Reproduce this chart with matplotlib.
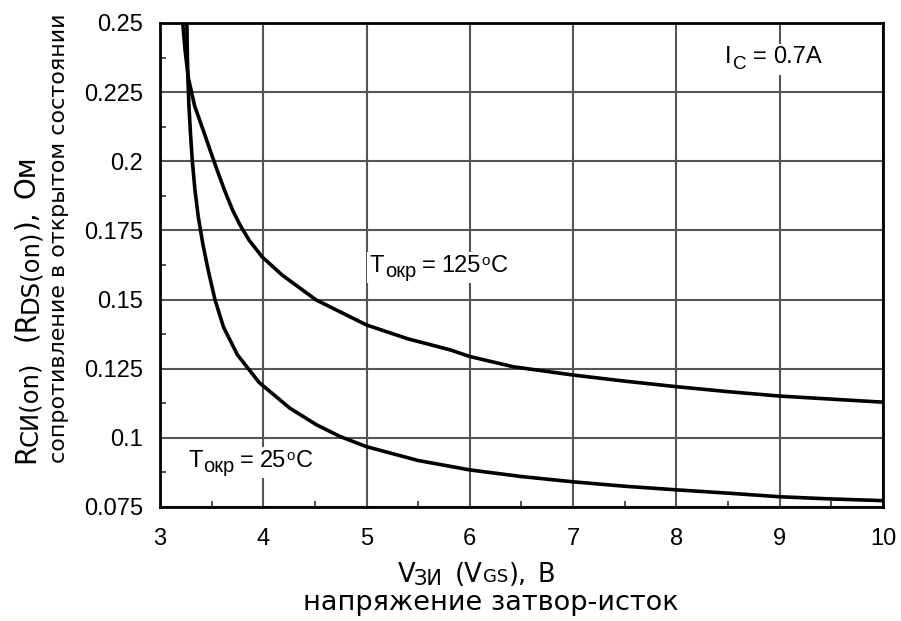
import matplotlib
matplotlib.use("Agg")
import matplotlib.pyplot as plt
from matplotlib.ticker import MultipleLocator, FixedLocator
from matplotlib.transforms import IdentityTransform
from matplotlib.patches import Rectangle

plt.rcParams['font.family'] = ['Liberation Sans', 'DejaVu Sans']

# Tокр = 25°C
v_25 = [3.26, 3.264, 3.270, 3.280, 3.295, 3.313, 3.337, 3.37, 3.415, 3.47,
        3.532, 3.615, 3.75, 3.96, 4.258, 4.516, 4.742, 5.0, 5.5, 6.0, 6.5,
        7.0, 7.5, 8.0, 8.5, 9.0, 9.5, 10.0]
r_25 = [0.25, 0.24, 0.23, 0.22, 0.21, 0.20, 0.19, 0.18, 0.17, 0.16,
        0.15, 0.14, 0.13, 0.12, 0.1107, 0.1047, 0.1005, 0.0968, 0.0918, 0.0884,
        0.0860, 0.0841, 0.0825, 0.0812, 0.0800, 0.0787, 0.0779, 0.0773]
# Tокр = 125°C
v_125 = [3.22, 3.243, 3.275, 3.335, 3.43, 3.484, 3.552, 3.624, 3.702, 3.774,
         3.862, 3.987, 4.181, 4.51, 5.0, 5.4, 5.81, 6.0, 6.42, 7.0, 7.5, 8.0,
         8.5, 9.0, 9.5, 10.0]
r_125 = [0.25, 0.24, 0.23, 0.22, 0.21, 0.2041, 0.1969, 0.1896, 0.1824, 0.1770,
         0.1715, 0.1655, 0.1589, 0.1499, 0.1408, 0.1358, 0.1318, 0.1294,
         0.1257, 0.1227, 0.1205, 0.1185, 0.1167, 0.1151, 0.1140, 0.1129]

x_ticks = [3, 4, 5, 6, 7, 8, 9, 10]
y_ticks = [0.075, 0.1, 0.125, 0.15, 0.175, 0.2, 0.225, 0.25]
y_labels = ['0.075', '0.1', '0.125', '0.15', '0.175', '0.2', '0.225', '0.25']

fig = plt.figure(figsize=(9.01, 6.21), dpi=100)
ax = fig.add_axes([0.1776, 0.1836, 0.8024, 0.7794])

ax.plot(v_25, r_25, color='black', lw=2.6, solid_joinstyle='round', zorder=3)
ax.plot(v_125, r_125, color='black', lw=2.6, solid_joinstyle='round', zorder=3)

ax.set_xlim(3, 10)
ax.set_ylim(0.075, 0.25)
ax.xaxis.set_major_locator(FixedLocator(x_ticks))
ax.yaxis.set_major_locator(FixedLocator(y_ticks))
ax.set_yticklabels(y_labels)
ax.xaxis.set_minor_locator(MultipleLocator(0.5))
ax.yaxis.set_minor_locator(MultipleLocator(0.0125))
ax.grid(True, which='major', color='#555555', lw=1.5, zorder=1)
ax.tick_params(which='major', length=0, labelsize=17, pad=12)
ax.tick_params(axis='x', which='major', pad=15)
ax.tick_params(which='minor', direction='in', length=4, width=1.2, color='#333333')
for s in ax.spines.values():
    s.set_linewidth(2)
    s.set_color('black')

renderer = fig.canvas.get_renderer()
H = fig.bbox.height


def runs(parts, x, y, rot=0, ha='left', family='DejaVu Sans', white=False):
    # parts: (text, fontsize, shift_px, gap_px); x, y in pixels from bottom-left
    texts = []
    pos = 0
    for s, size, shift, gap in parts:
        pos += gap
        if rot == 0:
            t = fig.text(pos, shift, s, fontsize=size, family=family, ha='left',
                         va='baseline', transform=IdentityTransform(), zorder=4)
            pos = t.get_window_extent(renderer).x1
        else:
            t = fig.text(-shift, pos, s, fontsize=size, family=family, rotation=90,
                         rotation_mode='anchor', ha='left', va='baseline',
                         transform=IdentityTransform())
            pos = t.get_window_extent(renderer).y1
        texts.append(t)
    off = pos / 2 if ha == 'center' else 0
    for t in texts:
        tx, ty = t.get_position()
        if rot == 0:
            t.set_position((tx + x - off, ty + y))
        else:
            t.set_position((tx + x, ty + y - off))
    if white:
        bbs = [t.get_window_extent(renderer) for t in texts]
        x0 = min(b.x0 for b in bbs) - 3
        x1 = max(b.x1 for b in bbs) + 3
        y0 = min(b.y0 for b in bbs) - 2
        y1 = max(b.y1 for b in bbs) + 2
        fig.patches.append(Rectangle((x0, y0), x1 - x0, y1 - y0, facecolor='white',
                                     edgecolor='none', transform=IdentityTransform(),
                                     zorder=3.5))


def data_px(xv, yv):
    return ax.transData.transform((xv, yv))


px, py = data_px(5.033, 0.1601)
runs([('T', 17, 0, 0), ('окр', 14.5, -5, 1), ('=', 17, 0, 5), ('125', 17, 0, 6),
      ('o', 11, 7, 1), ('C', 17, 0, 1)], px, py, family='Liberation Sans', white=True)
px, py = data_px(3.271, 0.0895)
runs([('T', 17, 0, 0), ('окр', 14.5, -5, 1), ('=', 17, 0, 5), ('25', 17, 0, 6),
      ('o', 11, 7, 1), ('C', 17, 0, 1)], px, py, family='Liberation Sans', white=True)
px, py = data_px(8.47, 0.2354)
runs([('I', 17, 0, 0), ('C', 13.5, -6, 2), ('=', 17, 0, 6), ('0.7A', 17, 0, 6)],
     px, py, family='Liberation Sans', white=True)

# x label
runs([('V', 18.5, 0, 0), ('ЗИ', 15, -3, -1), ('(V', 18.5, 0, 12), ('GS', 13, 0, 0),
      ('),', 18.5, 0, 1), ('В', 18.5, 0, 10)], 476, H - 582, ha='center')
fig.text(491, H - 610, 'напряжение затвор-исток', fontsize=19.5,
         family='DejaVu Sans', ha='center', va='baseline', transform=IdentityTransform())

# y label
runs([('R', 20, 0, 0), ('СИ(on)', 17.5, -3, -2), ('(R', 20, 0, 20), ('DS(on)', 17.5, -3, -2),
      ('),', 20, 0, 1), ('Ом', 20, 0, 11)], 34, H - 463, rot=90)
fig.text(65, H - 463, 'сопротивление в открытом состоянии', fontsize=16,
         family='DejaVu Sans', rotation=90, rotation_mode='anchor', ha='left',
         va='baseline', transform=IdentityTransform())

fig.savefig('out.png', dpi=100)
